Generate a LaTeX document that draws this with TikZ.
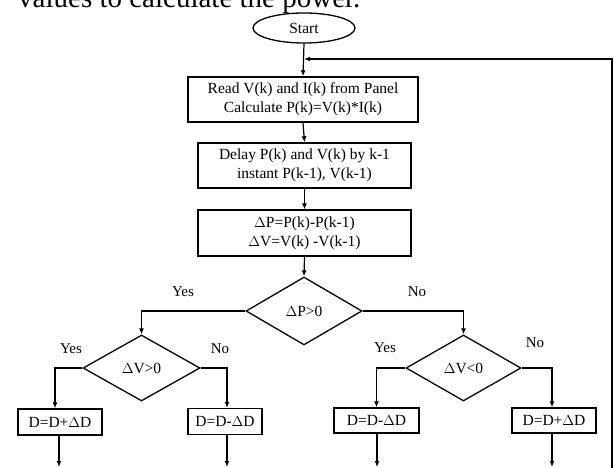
\documentclass[tikz,border=0pt]{standalone}
\usepackage{fontspec}
\setmainfont{Liberation Serif}
\usetikzlibrary{shapes.geometric,arrows.meta}
\tikzset{
  every node/.style={font=\fontsize{15.5}{19}\selectfont, text=black},
  boxnode/.style={draw, line width=1.4pt, rectangle, inner sep=0pt, align=center},
  decnode/.style={draw, line width=1.3pt, diamond, inner sep=0pt},
  termnode/.style={draw, line width=1.3pt, ellipse, inner sep=0pt},
  conn/.style={line width=1.2pt, -{Latex[length=6pt,width=5pt]}},
  plainconn/.style={line width=1.2pt},
  lbl/.style={font=\fontsize{15}{18}\selectfont}
}
\begin{document}
\begin{tikzpicture}[x=1pt,y=-1pt]
\useasboundingbox (0,0) rectangle (614,468);
\clip (0,0) rectangle (614,468);
\node[anchor=base west, font=\fontsize{29}{34}\selectfont, inner sep=0pt] (caption) at (18,8) {values to calculate the power.};
\node[termnode, minimum width=102pt, minimum height=30pt] (start) at (304,28) {Start};
\node[boxnode, minimum width=230pt, minimum height=45pt] (read) at (303,99.5) {Read V(k) and I(k) from Panel\\Calculate P(k)=V(k)*I(k)};
\node[boxnode, minimum width=213pt, minimum height=45pt] (delay) at (304.5,165.5) {Delay P(k) and V(k) by k-1\\instant P(k-1), V(k-1)};
\node[boxnode, minimum width=213pt, minimum height=46pt] (delta) at (304.5,233) {$\Delta$P=P(k)-P(k-1)\\$\Delta$V=V(k) -V(k-1)};
\node[decnode, minimum width=116pt, minimum height=68pt] (dp) at (304,311) {$\Delta$P>0};
\node[decnode, minimum width=117pt, minimum height=66pt] (dv1) at (141.5,368) {$\Delta$V>0};
\node[decnode, minimum width=115pt, minimum height=66pt] (dv2) at (463.5,368) {$\Delta$V<0};
\node[boxnode, minimum width=84pt, minimum height=26pt] (b1) at (60,422) {D=D+$\Delta$D};
\node[boxnode, minimum width=74pt, minimum height=26pt] (b2) at (225,421.5) {D=D-$\Delta$D};
\node[boxnode, minimum width=85pt, minimum height=25pt] (b3) at (376.5,420.5) {D=D-$\Delta$D};
\node[boxnode, minimum width=84pt, minimum height=25pt] (b4) at (554,420.5) {D=D+$\Delta$D};
\node[lbl] (y1) at (183,292) {Yes};
\node[lbl] (n1) at (417,292) {No};
\node[lbl] (y2) at (71,349) {Yes};
\node[lbl] (n2) at (220,349) {No};
\node[lbl] (y3) at (385,348) {Yes};
\node[lbl] (n3) at (535,343) {No};
\coordinate (join) at (304,59);
\coordinate (loopbot) at (612,470);
\coordinate (loopcorner) at (612,59);
\coordinate (e1) at (59,467);
\coordinate (e2) at (227,467);
\coordinate (e3) at (377,467);
\coordinate (e4) at (552,467);
\draw[conn] (start.south) -- (read.north);
\draw[conn] (loopbot) -- (loopcorner) -- (join);
\draw[conn] (read.south) -- (delay.north);
\draw[conn] (delay.south) -- (delta.north);
\draw[conn] (delta.south) -- (dp.north);
\draw[conn] (dp.west) -| (dv1.north);
\draw[conn] (dp.east) -| (dv2.north);
\draw[conn] (dv1.west) -| ([xshift=-5pt]b1.north);
\draw[conn] (dv1.east) -| ([xshift=2pt]b2.north);
\draw[conn] (dv2.west) -| (b3.north);
\draw[conn] (dv2.east) -| ([xshift=-2pt]b4.north);
\draw[conn] (b1.south -| e1) -- (e1);
\draw[conn] (b2.south -| e2) -- (e2);
\draw[conn] (b3.south -| e3) -- (e3);
\draw[conn] (b4.south -| e4) -- (e4);
\end{tikzpicture}
\end{document}
